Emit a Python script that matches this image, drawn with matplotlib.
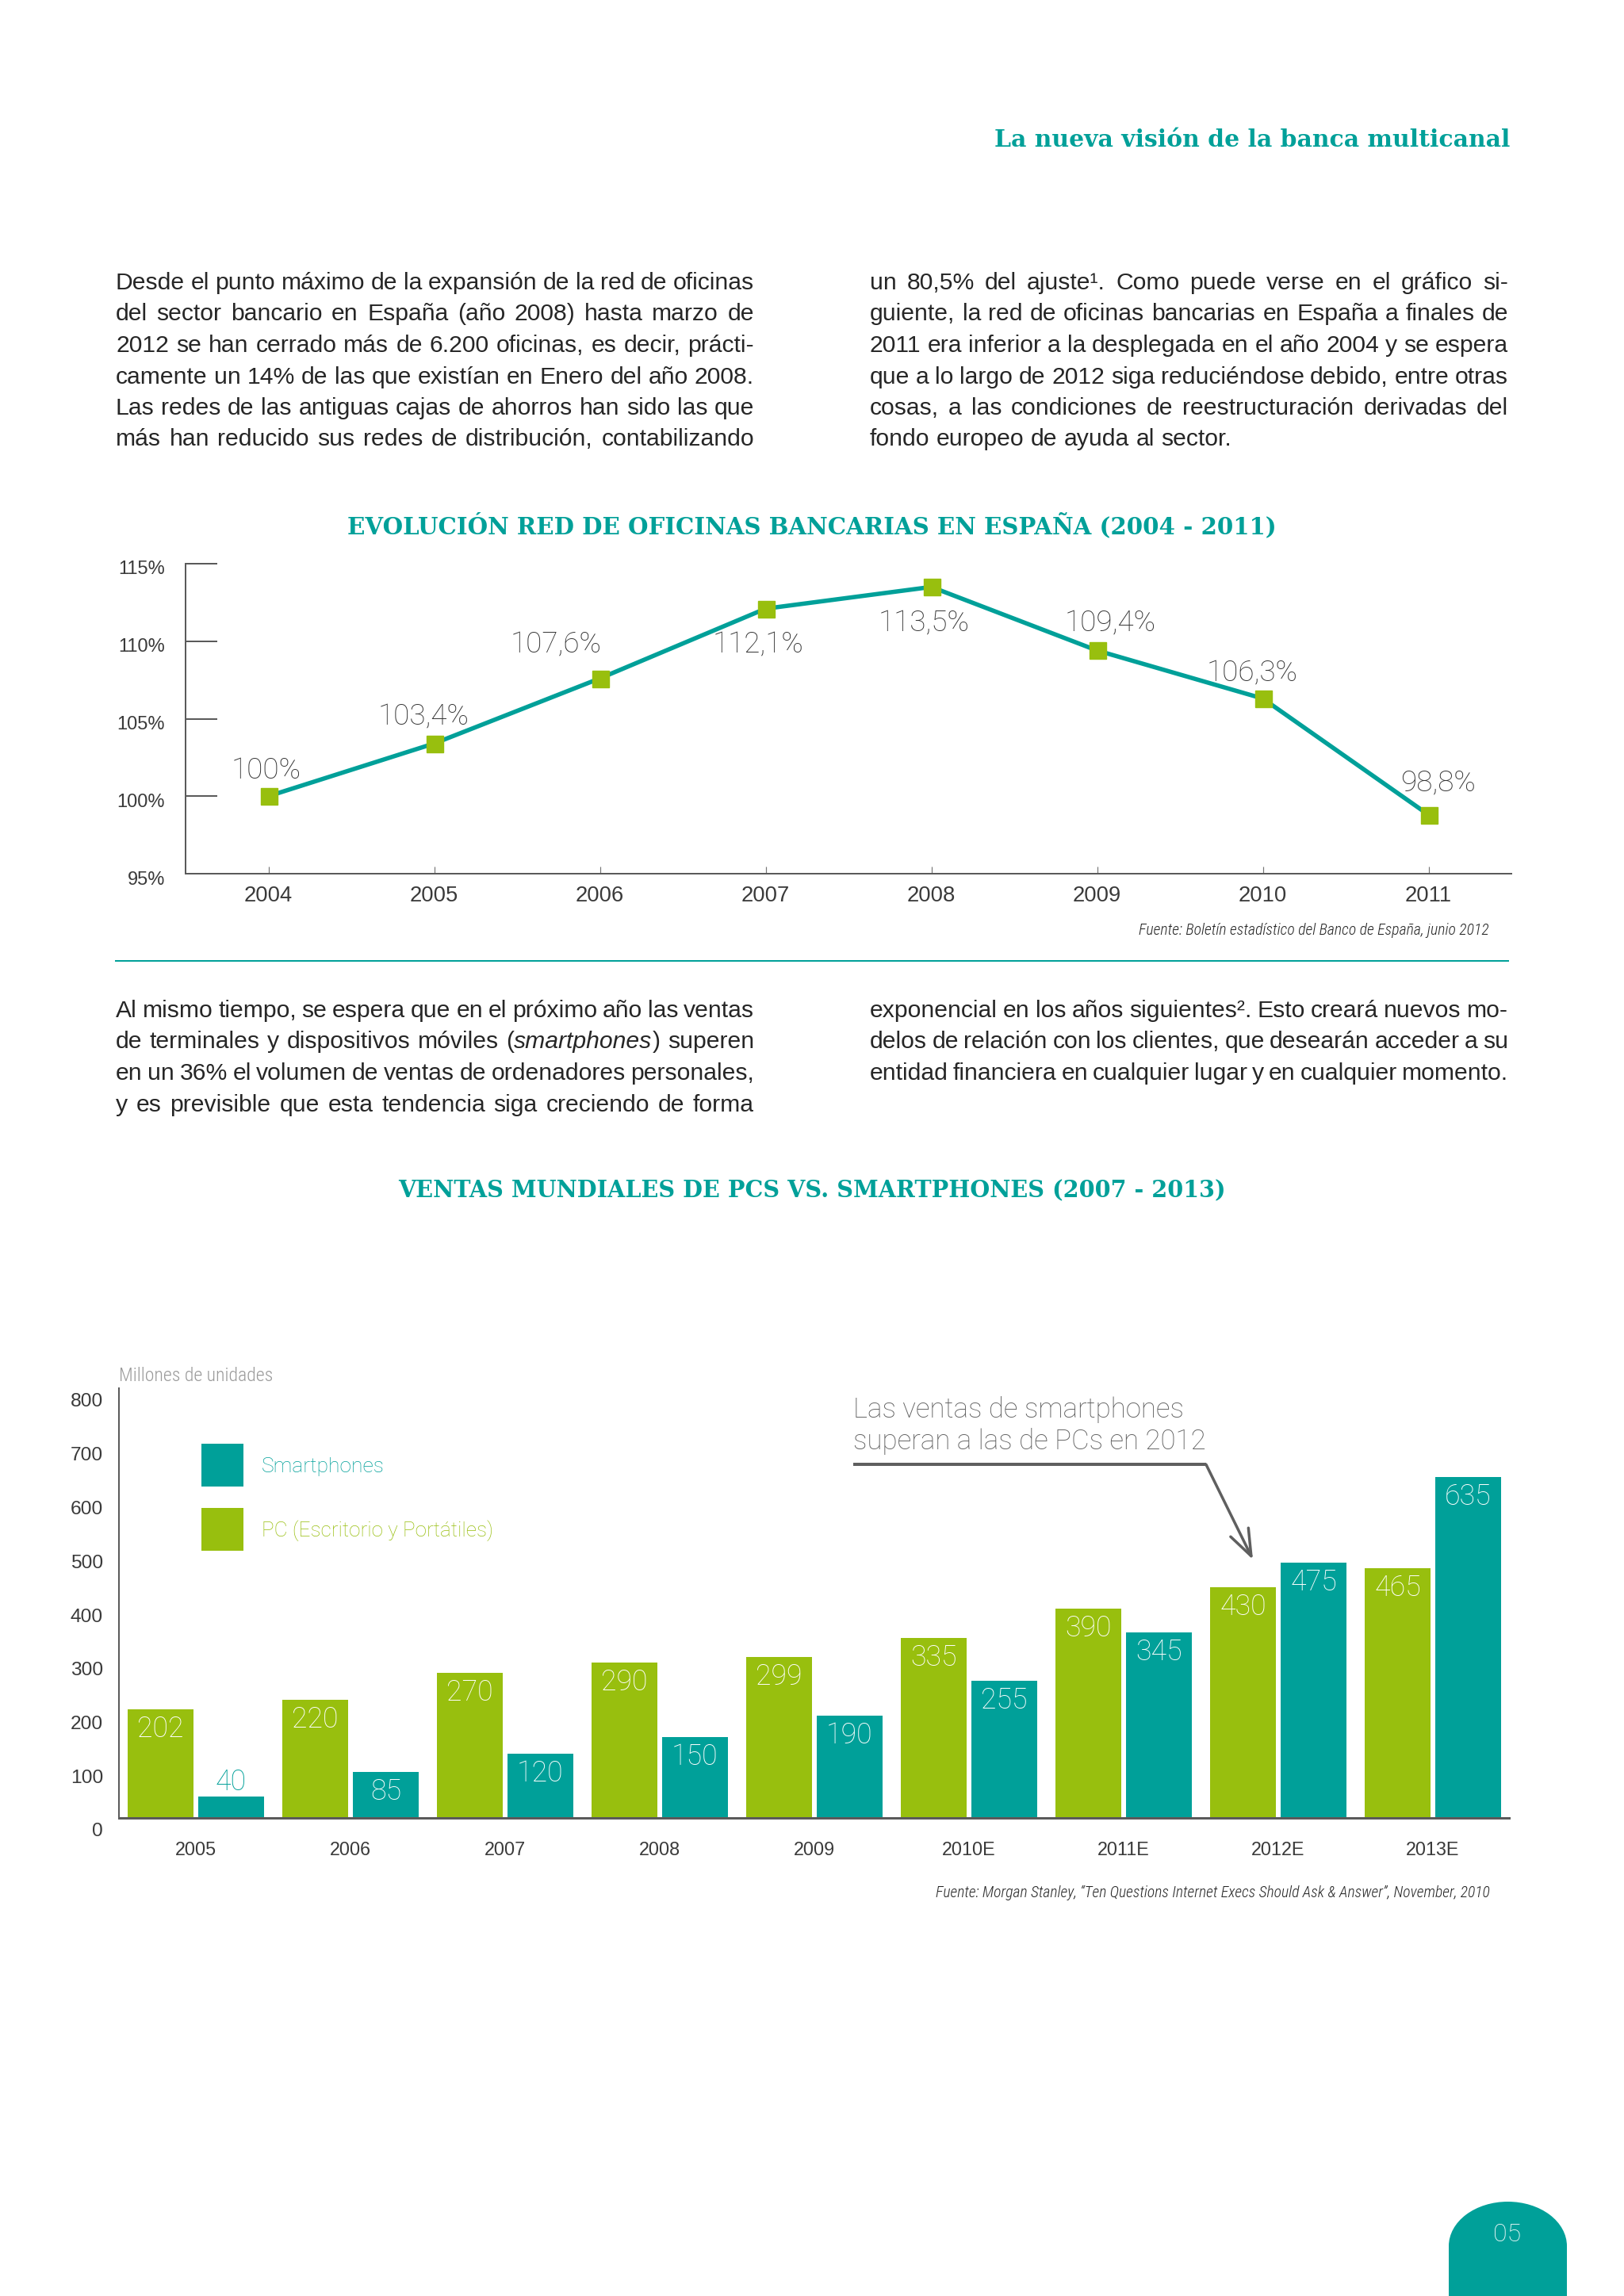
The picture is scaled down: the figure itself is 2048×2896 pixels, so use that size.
import matplotlib
matplotlib.use("Agg")
import numpy as np
from matplotlib import pyplot as plt
from matplotlib import font_manager
from matplotlib import transforms as mtransforms
from matplotlib.patches import Ellipse, Rectangle

W, H, DPI = 2048, 2896, 100
PX = 72 / DPI  # points per pixel

TEAL = "#00A099"
GREEN = "#98BF0E"
INK = "#262626"
AXIS = "#5A5A5A"
NOTE = "#5F5F5F"

# ---------------- data ----------------
header = "La nueva visión de la banca multicanal"

para1_left = [
    "Desde el punto máximo de la expansión de la red de oficinas",
    "del sector bancario en España (año 2008) hasta marzo de",
    "2012 se han cerrado más de 6.200 oficinas, es decir, prácti-",
    "camente un 14% de las que existían en Enero del año 2008.",
    "Las redes de las antiguas cajas de ahorros han sido las que",
    "más han reducido sus redes de distribución, contabilizando",
]
para1_right = [
    "un 80,5% del ajuste¹. Como puede verse en el gráfico si-",
    "guiente, la red de oficinas bancarias en España a finales de",
    "2011 era inferior a la desplegada en el año 2004 y se espera",
    "que a lo largo de 2012 siga reduciéndose debido, entre otras",
    "cosas, a las condiciones de reestructuración derivadas del",
    "fondo europeo de ayuda al sector.",
]
para2_left = [
    "Al mismo tiempo, se espera que en el próximo año las ventas",
    "de terminales y dispositivos móviles (_smartphones_) superen",
    "en un 36% el volumen de ventas de ordenadores personales,",
    "y es previsible que esta tendencia siga creciendo de forma",
]
para2_right = [
    "exponencial en los años siguientes². Esto creará nuevos mo-",
    "delos de relación con los clientes, que desearán acceder a su",
    "entidad financiera en cualquier lugar y en cualquier momento.",
]

line_title = "EVOLUCIÓN RED DE OFICINAS BANCARIAS EN ESPAÑA (2004 - 2011)"
years = [2004, 2005, 2006, 2007, 2008, 2009, 2010, 2011]
offices = [100, 103.4, 107.6, 112.1, 113.5, 109.4, 106.3, 98.8]
office_labels = ["100%", "103,4%", "107,6%", "112,1%", "113,5%", "109,4%", "106,3%", "98,8%"]
pct_ticks = [95, 100, 105, 110, 115]
line_source = "Fuente: Boletín estadístico del Banco de España, junio 2012"

bar_title = "VENTAS MUNDIALES DE PCS VS. SMARTPHONES (2007 - 2013)"
periods = ["2005", "2006", "2007", "2008", "2009", "2010E", "2011E", "2012E", "2013E"]
pc_sales = [202, 220, 270, 290, 299, 335, 390, 430, 465]
phone_sales = [40, 85, 120, 150, 190, 255, 345, 475, 635]
unit_ticks = [0, 100, 200, 300, 400, 500, 600, 700, 800]
series_names = ["Smartphones", "PC (Escritorio y Portátiles)"]
note = ["Las ventas de smartphones", "superan a las de PCs en 2012"]
bar_source = "Fuente: Morgan Stanley, “Ten Questions Internet Execs Should Ask & Answer”, November, 2010"
page_number = "05"

# ---------------- fonts ----------------
entries = font_manager.fontManager.ttflist
names = {f.name for f in entries}


def light_family():
    for n in ["Roboto", "Lato", "Open Sans", "Inter", "Noto Sans"]:
        if any(f.name == n and isinstance(f.weight, int) and f.weight == 300 for f in entries):
            return n
    return "Liberation Sans"


LIGHT = light_family()
BODY = "Liberation Sans" if "Liberation Sans" in names else LIGHT
NARROW = next((n for n in ["Roboto Condensed", "Liberation Sans Narrow", "Open Sans Condensed"] if n in names), LIGHT)
SLAB = next((n for n in ["DejaVu Serif Condensed", "DejaVu Serif"] if n in names), "DejaVu Serif")

plt.rcParams["font.family"] = [LIGHT, "DejaVu Sans"]
plt.rcParams["font.weight"] = "light"

fig = plt.figure(figsize=(W / DPI, H / DPI), dpi=DPI)
fig.patch.set_facecolor("white")
page = fig.add_axes([0, 0, 1, 1])
page.set_xlim(0, W)
page.set_ylim(H, 0)
page.axis("off")
renderer = fig.canvas.get_renderer()


def width_of(s, **kw):
    t = page.text(0, 0, s, **kw)
    w = t.get_window_extent(renderer).width
    t.remove()
    return w


def fit(s, target, **kw):
    return 20 * target / width_of(s, size=20, **kw)


def rect(x0, y0, x1, y1):
    return [x0 / W, 1 - y1 / H, (x1 - x0) / W, (y1 - y0) / H]


# ---------------- justified body text ----------------
body = dict(family=[BODY, "DejaVu Sans"], weight="normal")


def split_word(word):
    parts = word.split("_")
    return [(p, i % 2 == 1) for i, p in enumerate(parts) if p]


def seg_w(p, it, size):
    return width_of(p, size=size, style="italic" if it else "normal", **body)


# size the body so the ragged last line matches the page, but keep every
# justified line with at least a third of a normal space between words
all_lines = para1_left + para1_right + para2_left + para2_right
space20 = width_of("a a", size=20, **body) - width_of("aa", size=20, **body)
limits = []
for line in all_lines:
    ws = [sum(seg_w(p, it, 20) for p, it in split_word(w)) for w in line.split()]
    limits.append(20 * 805 / (sum(ws) + 0.33 * space20 * (len(ws) - 1)))
body_size = min(fit(para1_right[-1], 454, **body), min(limits))
space = space20 * body_size / 20


def paragraph(lines, x0, x1, y0, step=39.5, ragged_last=False):
    for i, line in enumerate(lines):
        words = [split_word(w) for w in line.split()]
        widths = [[seg_w(p, it, body_size) for p, it in w] for w in words]
        total = sum(sum(ws) for ws in widths)
        if ragged_last and i == len(lines) - 1:
            gap = space
        else:
            gap = (x1 - x0 - total) / (len(words) - 1)
        x = x0
        y = y0 + i * step
        for w, ws in zip(words, widths):
            for (p, it), pw in zip(w, ws):
                page.text(x, y, p, size=body_size, color=INK, ha="left", va="baseline",
                          style="italic" if it else "normal", **body)
                x += pw
            x += gap


paragraph(para1_left, 146, 951, 365)
paragraph(para1_right, 1097, 1902, 365, ragged_last=True)
paragraph(para2_left, 146, 951, 1283)
paragraph(para2_right, 1097, 1902, 1283)

# ---------------- headings ----------------
slab = dict(family=SLAB, weight="bold")
page.text(1904, 185, header, color=TEAL, ha="right", va="baseline",
          size=fit(header, 650, **slab), **slab)
page.text(1024, 673, line_title, color=TEAL, ha="center", va="baseline",
          size=fit(line_title, 1168, **slab), **slab)
page.text(1024, 1510, bar_title, color=TEAL, ha="center", va="baseline",
          size=fit(bar_title, 1040, **slab), **slab)

narrow_it = dict(family=[NARROW, "DejaVu Sans"], style="italic", weight="light")
page.text(1878, 1179, line_source, color=INK, ha="right", va="baseline",
          size=fit(line_source, 443, **narrow_it), **narrow_it)
page.text(1879, 2393, bar_source, color=INK, ha="right", va="baseline",
          size=fit(bar_source, 699, **narrow_it), **narrow_it)

page.plot([146, 1902], [1212, 1212], color=TEAL, lw=2 * PX)

# ---------------- line chart ----------------
tick_font = dict(family=[BODY, "DejaVu Sans"], weight="normal")
ax1 = fig.add_axes(rect(234, 711, 1906, 1102), facecolor="none")
ax1.plot(years, offices, color=TEAL, lw=5.5 * PX, zorder=2)
ax1.plot(years, offices, ls="none", marker="s", ms=21 * PX, color=GREEN, zorder=3)
ax1.set_xlim(2003.5, 2011.5)
ax1.set_ylim(95, 115)
for side in ["top", "right"]:
    ax1.spines[side].set_visible(False)
for side in ["left", "bottom"]:
    ax1.spines[side].set_color(AXIS)
    ax1.spines[side].set_linewidth(2 * PX)
ax1.set_yticks(pct_ticks, [f"{v}%" for v in pct_ticks], **tick_font)
ax1.set_xticks(years, [str(y) for y in years], **tick_font)
ax1.tick_params(axis="y", direction="in", length=40 * PX, width=2 * PX, color=AXIS,
                pad=26 * PX, labelsize=fit("115%", 59, **tick_font), labelcolor="#3A3A3A")
ax1.tick_params(axis="x", direction="in", length=9 * PX, width=1.2 * PX, color="#777777",
                pad=15 * PX, labelsize=fit("2004", 61, **tick_font), labelcolor="#3A3A3A")
shift = mtransforms.ScaledTranslation(0, -5 / DPI, fig.dpi_scale_trans)
for lab in ax1.get_yticklabels():
    lab.set_transform(lab.get_transform() + shift)

label_offsets = [(-3, 32), (-13, 33), (-55, 42), (-10, -46), (-9, -46), (17, 34), (-13, 32), (12, 40)]
pct_size = fit("103,4%", 115)
for x, y, lbl, (dx, dy) in zip(years, offices, office_labels, label_offsets):
    ax1.annotate(lbl, (x, y), xytext=(dx, dy), textcoords="offset pixels",
                 ha="center", va="center", size=pct_size, color="#333333")

# ---------------- bar chart ----------------
ax2 = fig.add_axes(rect(150, 1751, 1903, 2293), facecolor="none")
xs = np.arange(len(periods))
bw, off = 0.426, 0.228
bars_pc = ax2.bar(xs - off, pc_sales, bw, color=GREEN, zorder=2)
bars_ph = ax2.bar(xs + off, phone_sales, bw, color=TEAL, zorder=2)
ax2.set_xlim(-0.497, 8.492)
ax2.set_ylim(0, 800)
for side in ["top", "right"]:
    ax2.spines[side].set_visible(False)
ax2.spines["left"].set_color(AXIS)
ax2.spines["left"].set_linewidth(2 * PX)
ax2.spines["bottom"].set_color(AXIS)
ax2.spines["bottom"].set_linewidth(3 * PX)
ax2.spines["bottom"].set_zorder(3)
ax2.set_yticks(unit_ticks, [str(v) for v in unit_ticks], **tick_font)
ax2.set_xticks(xs, periods, **tick_font)
ax2.tick_params(axis="y", length=0, pad=20 * PX, labelsize=fit("800", 41, **tick_font),
                labelcolor="#3A3A3A")
ax2.tick_params(axis="x", length=0, pad=29 * PX, labelsize=fit("2005", 52, **tick_font),
                labelcolor="#3A3A3A")
shift2 = mtransforms.ScaledTranslation(0, -15 / DPI, fig.dpi_scale_trans)
for lab in ax2.get_yticklabels():
    lab.set_transform(lab.get_transform() + shift2)

val_size = fit("202", 59)
for bars, vals, color in [(bars_pc, pc_sales, GREEN), (bars_ph, phone_sales, TEAL)]:
    for b, v in zip(bars, vals):
        cx = b.get_x() + b.get_width() / 2
        if v < 60:
            ax2.annotate(str(v), (cx, v), xytext=(0, 18), textcoords="offset pixels",
                         ha="center", va="center", size=val_size, color=color)
        else:
            ax2.annotate(str(v), (cx, v), xytext=(0, -25), textcoords="offset pixels",
                         ha="center", va="center", size=val_size, color="white", zorder=4)

unit_font = dict(family=[NARROW, "DejaVu Sans"], weight="light")
page.text(150, 1742, "Millones de unidades", color="#9A9A9A", ha="left", va="baseline",
          size=fit("Millones de unidades", 194, **unit_font), **unit_font)

# legend
for (y0, base), color, name, target in zip([(1821, 1857), (1902, 1938)], [TEAL, GREEN],
                                           series_names, [155, 292]):
    page.add_patch(Rectangle((254, y0), 53, 54, color=color, lw=0))
    page.text(330, base, name, color=color, ha="left", va="baseline", size=fit(name, target))

# annotation
note_size = fit(note[1], 445)
ax2.text(4.251, 745, note[0], color=NOTE, ha="left", va="baseline", size=note_size)
ax2.text(4.251, 686, note[1], color=NOTE, ha="left", va="baseline", size=note_size)
ax2.plot([4.251, 6.533], [658, 658], color=NOTE, lw=4 * PX, solid_capstyle="butt")
ax2.annotate("", xy=(6.836, 481), xytext=(6.533, 658),
             arrowprops=dict(arrowstyle="->,head_length=1.2,head_width=0.45", color=NOTE,
                             lw=3.5 * PX, shrinkA=0, shrinkB=0, mutation_scale=20))

# ---------------- page tab ----------------
page.add_patch(Ellipse((1901.5, 2833), 149, 112, color=TEAL, lw=0))
page.add_patch(Rectangle((1827, 2833), 149, 70, color=TEAL, lw=0))
page.text(1901, 2827, page_number, color="white", ha="center", va="baseline", size=23)

fig.savefig("out.png", dpi=DPI, facecolor="white")
